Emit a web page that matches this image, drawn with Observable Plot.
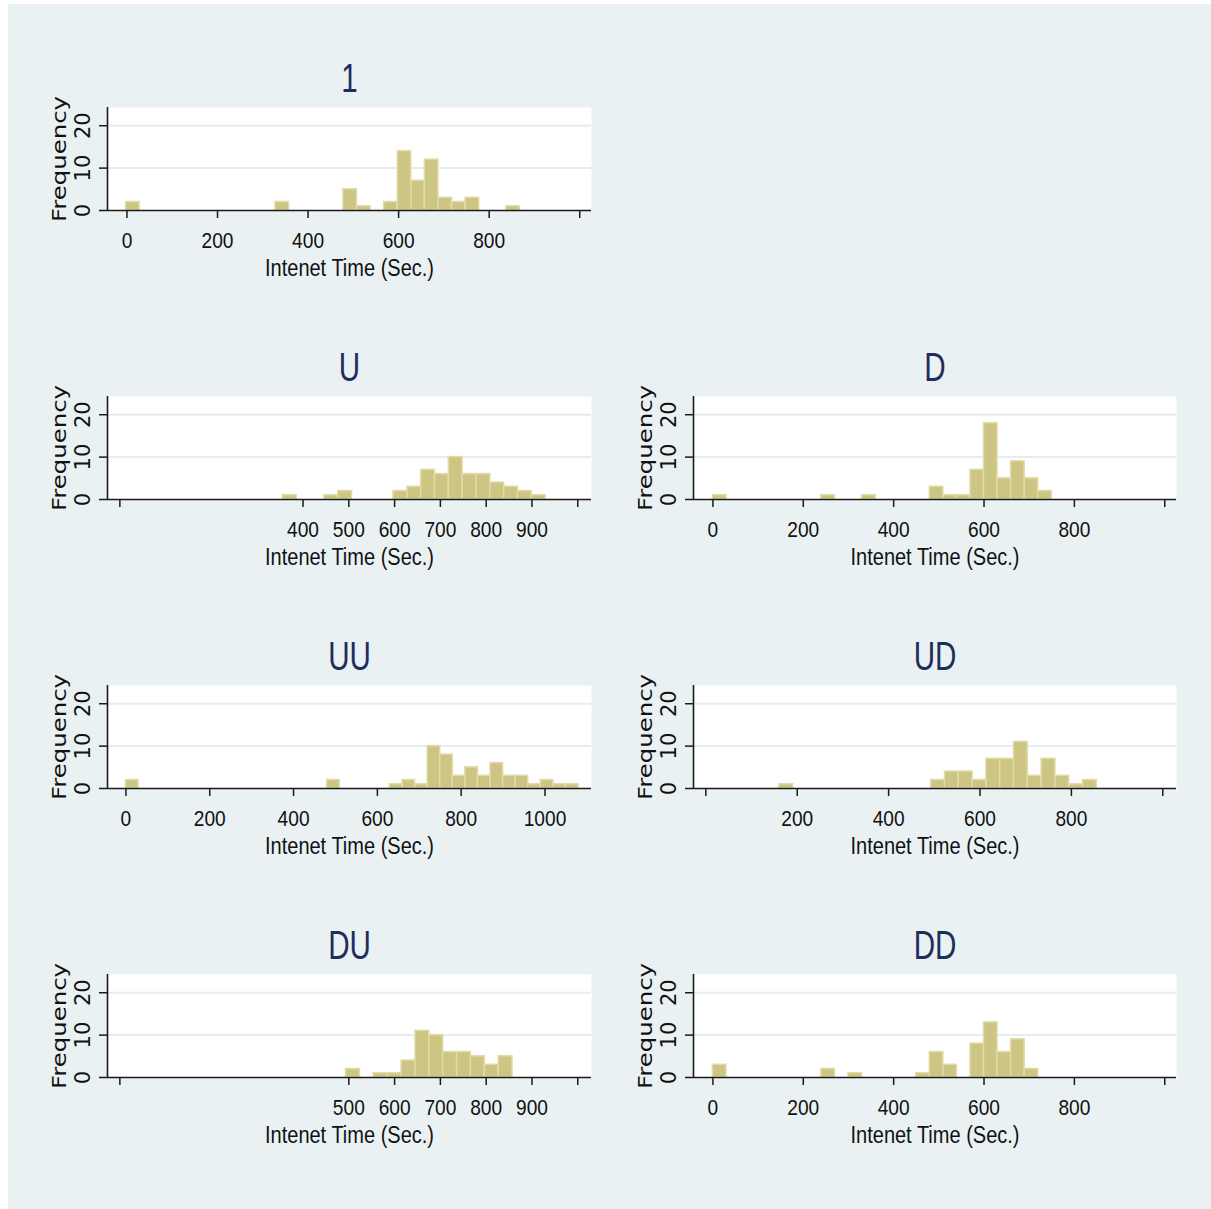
<!DOCTYPE html>
<html><head><meta charset="utf-8">
<script src="https://cdn.jsdelivr.net/npm/d3@7"></script>
<script src="https://cdn.jsdelivr.net/npm/@observablehq/plot@0.6"></script>
<style>
html,body{margin:0;padding:0;background:#fff;}
#bg{position:absolute;left:8px;top:4px;width:1203px;height:1205px;background:#e9f1f3;}
.panel{position:absolute;}
</style></head><body><div id="bg"></div><div id="root"></div>
<script>
// ---- data ----
const panelNames = ["1", "U", "D", "UU", "UD", "DU", "DD"];
const binStarts  = [-2, 356, 0, 0, 161, 494, 0];
const binWidths  = [30, 30.2, 30, 30, 30.2, 30.3, 30];

const counts1  = [2,0,0,0,0,0,0,0,0,0,0,2,0,0,0,0,5,1,0,2,14,7,12,3,2,3,0,0,1];
const countsU  = [1,0,0,1,2,0,0,0,2,3,7,6,10,6,6,4,3,2,1];
const countsD  = [1,0,0,0,0,0,0,0,1,0,0,1,0,0,0,0,3,1,1,7,18,5,9,5,2];
const countsUU = [2,0,0,0,0,0,0,0,0,0,0,0,0,0,0,0,2,0,0,0,0,1,2,1,10,8,3,5,3,6,3,3,1,2,1,1];
const countsUD = [1,0,0,0,0,0,0,0,0,0,0,2,4,4,2,7,7,11,3,7,3,1,2];
const countsDU = [2,0,1,1,4,11,10,6,6,5,3,5];
const countsDD = [3,0,0,0,0,0,0,0,2,0,1,0,0,0,0,1,6,3,0,8,13,6,9,2];
const panelCounts = [counts1, countsU, countsD, countsUU, countsUD, countsDU, countsDD];

const xTicksA = [0, 200, 400, 600, 800, 1000];
const xLabelsA = [0, 200, 400, 600, 800];
const xTicksU = [0, 400, 500, 600, 700, 800, 900, 1000];
const xLabelsU = [400, 500, 600, 700, 800, 900];
const xLabelsUU = [0, 200, 400, 600, 800, 1000];
const xLabelsUD = [200, 400, 600, 800];
const xTicksDU = [0, 500, 600, 700, 800, 900, 1000];
const xLabelsDU = [500, 600, 700, 800, 900];
const panelTicks  = [xTicksA, xTicksU, xTicksA, xTicksA, xTicksA, xTicksDU, xTicksA];
const panelLabels = [xLabelsA, xLabelsU, xLabelsA, xLabelsUU, xLabelsUD, xLabelsDU, xLabelsA];
const panelXDomains = [[-43, 1026], [-27, 1030], [-43, 1026], [-44, 1111], [-27, 1030], [-27, 1030], [-43, 1026]];

const yTicks = [0, 10, 20];
const yGrid = [10, 20];
const yDomain = [0, 24.3];
const xTitle = "Intenet Time (Sec.)";
const yTitle = "Frequency";

// ---- layout / style ----
const slots = [[0,0],[1,0],[1,1],[2,0],[2,1],[3,0],[3,1]];
const tickFont  = "Liberation Sans, sans-serif";          // condensed via scaleX
const titleFont = "Liberation Sans, Arimo, sans-serif";   // more condensed
const freqFont  = "DejaVu Sans, Verdana, sans-serif";     // stretched along text
const yTickFont = "DejaVu Sans, sans-serif";
const barFill = "#cdc583", barStroke = "#e2dba6", ink = "#1a1a1a", titleColor = "#1e2d5c";

function squeeze(svg, family, s) {
  svg.querySelectorAll(`g[font-family="${family}"] text`).forEach(t => {
    const tr = t.getAttribute("transform") || "";
    t.setAttribute("transform", tr + ` scale(${s},1)`);
  });
}

const root = document.getElementById("root");
panelNames.forEach((name, i) => {
  const [row, col] = slots[i];
  const start = binStarts[i], w = binWidths[i];
  const bins = panelCounts[i]
    .map((c, k) => ({x1: start + k * w, x2: start + (k + 1) * w, y: c}))
    .filter(d => d.y > 0);
  const labels = panelLabels[i];
  const left = col === 0;
  const svg = Plot.plot({
    width: left ? 600 : 590,
    height: 290,
    marginLeft: left ? 107 : 93,
    marginRight: left ? 9 : 14,
    marginTop: 107,
    marginBottom: 80,
    style: {background: "transparent", overflow: "visible"},
    x: {domain: panelXDomains[i]},
    y: {domain: yDomain},
    marks: [
      Plot.frame({fill: "white", stroke: null}),
      Plot.gridY(yGrid, {stroke: "#e4edf0", strokeOpacity: 1, strokeWidth: 2}),
      Plot.rectY(bins, {x1: "x1", x2: "x2", y: "y", fill: barFill, stroke: barStroke, strokeWidth: 1.5}),
      Plot.ruleY([0], {stroke: ink, strokeWidth: 1.6}),
      Plot.ruleX([panelXDomains[i][0]], {stroke: ink, strokeWidth: 1.6}),
      Plot.axisX({ticks: panelTicks[i], tickSize: 8, tickFormat: () => "", label: null, stroke: ink, strokeWidth: 1.5}),
      Plot.text(labels, {x: d => d, text: d => String(d), frameAnchor: "bottom", dy: 30,
        textAnchor: "middle", lineAnchor: "middle", fontSize: 22, fontFamily: tickFont, fill: "#111"}),
      Plot.axisY({ticks: yTicks, tickSize: 8, tickFormat: () => "", label: null, stroke: ink, strokeWidth: 1.5}),
      Plot.text(yTicks, {y: d => d, text: d => String(d), frameAnchor: "left", dx: -24, rotate: -90,
        textAnchor: "middle", lineAnchor: "middle", fontSize: 21, fontFamily: yTickFont, fill: "#111"}),
      Plot.text([yTitle], {frameAnchor: "left", dx: -48, rotate: -90, textAnchor: "middle", lineAnchor: "middle",
        fontSize: 20, fontFamily: freqFont, fill: "#111"}),
      Plot.text([xTitle], {frameAnchor: "bottom", dy: 58, textAnchor: "middle", lineAnchor: "middle",
        fontSize: 23, fontFamily: tickFont, fill: "#111"}),
      Plot.text([name], {frameAnchor: "top", dy: -28.5, textAnchor: "middle", lineAnchor: "middle",
        fontSize: 40, fontFamily: titleFont, fill: titleColor})
    ]
  });
  squeeze(svg, tickFont, 0.87);
  squeeze(svg, titleFont, 0.74);
  squeeze(svg, freqFont, 1.22);
  svg.classList.add("panel");
  svg.style.left = (left ? 0 : 600) + "px";
  svg.style.top = (row * 289) + "px";
  root.appendChild(svg);
});
</script></body></html>
